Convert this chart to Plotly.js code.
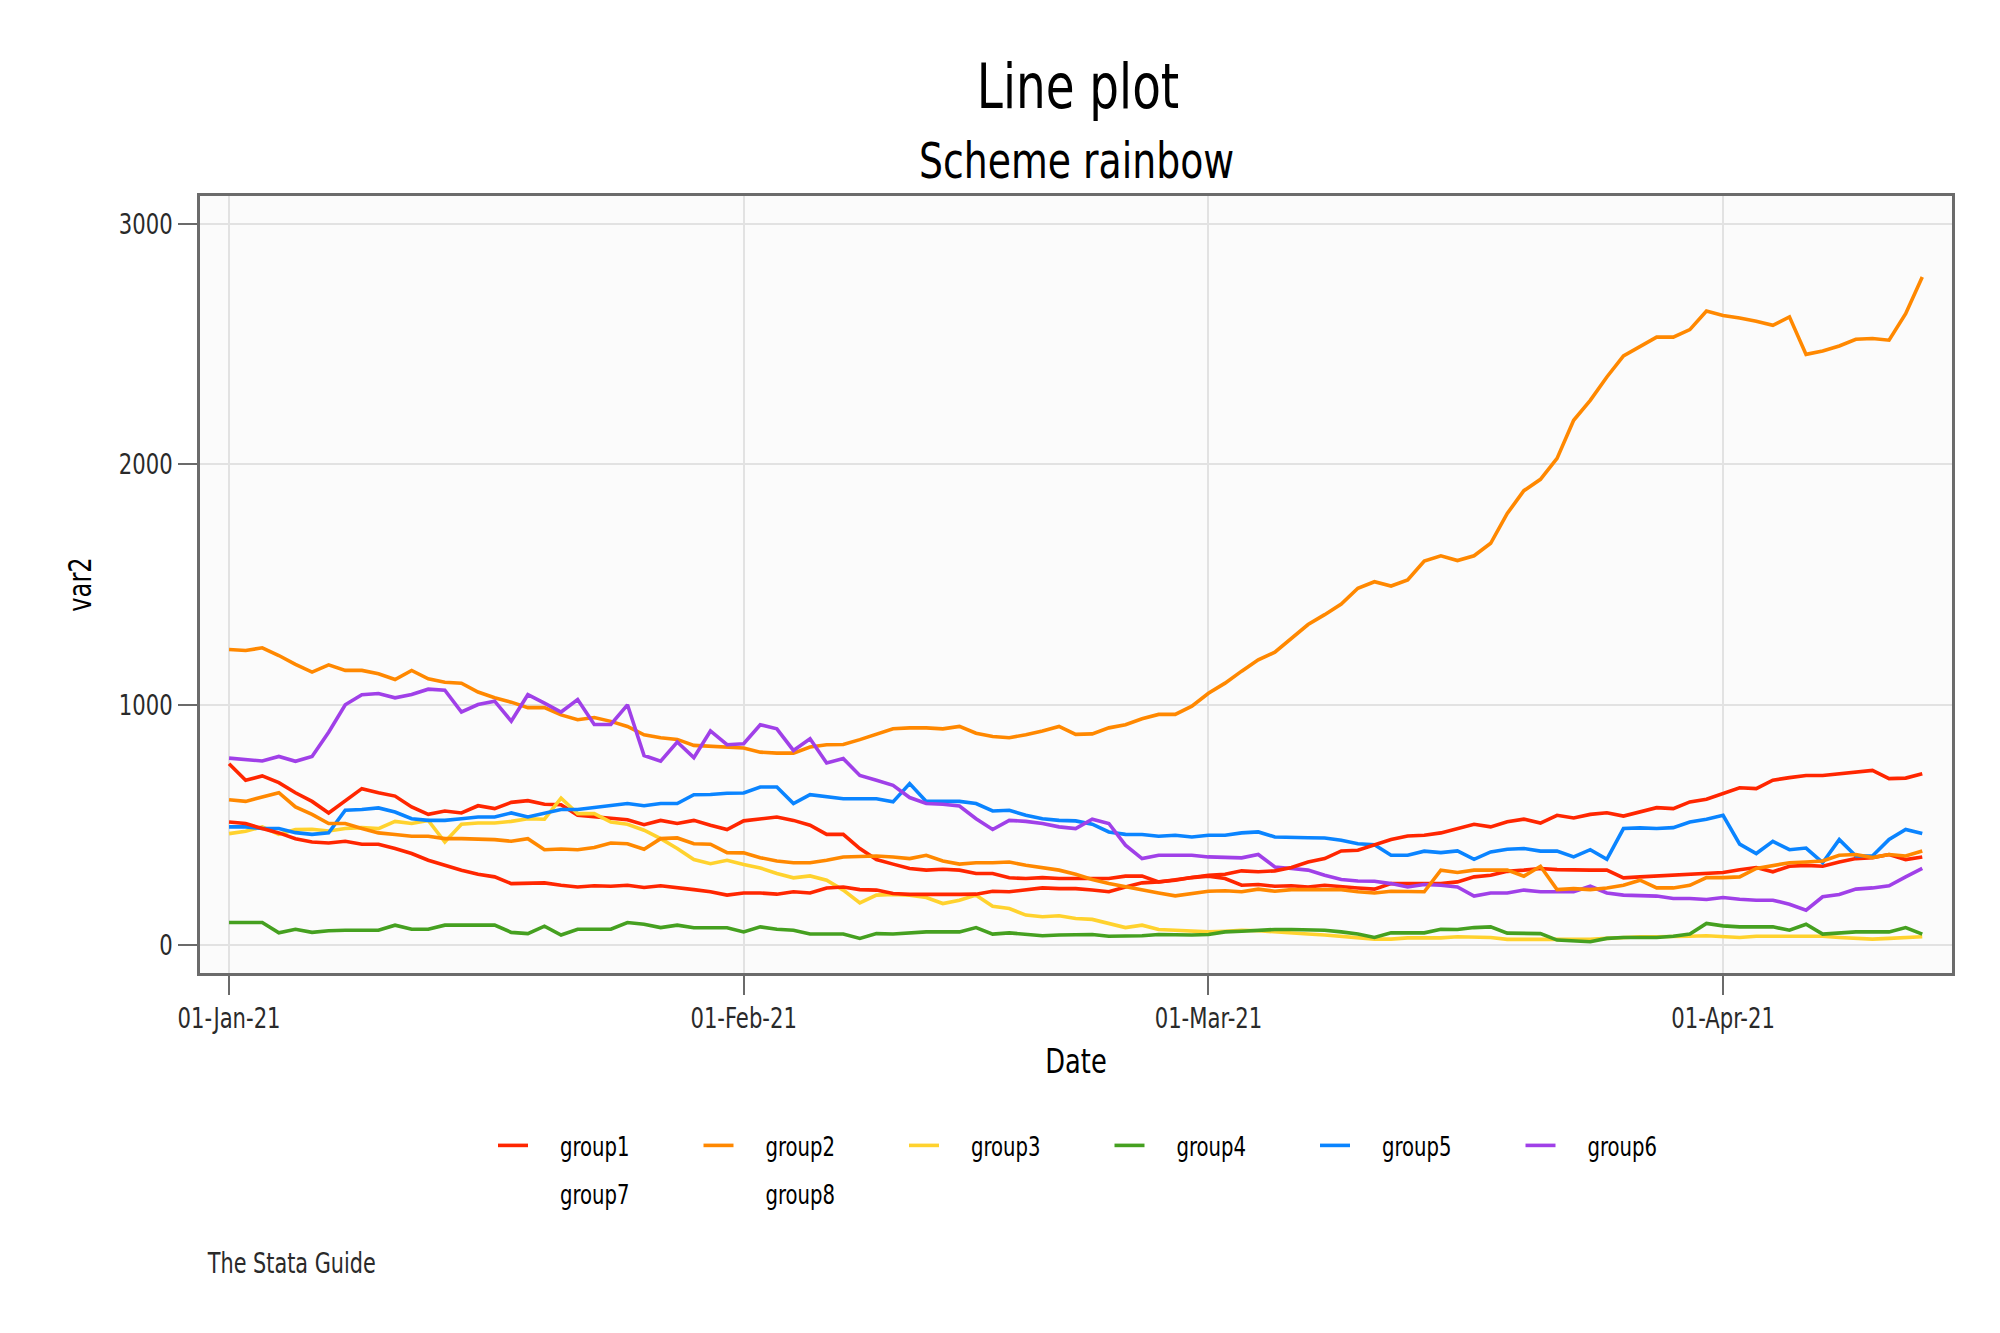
<!DOCTYPE html>
<html>
<head>
<meta charset="utf-8">
<script src="https://cdn.plot.ly/plotly-3.0.1.min.js"></script>
<style>
  html, body { margin: 0; padding: 0; background: #ffffff; }
  #chart { width: 2000px; height: 1333px; }
</style>
</head>
<body>
<div id="chart"></div>
<script>
// ---- data (daily, 01-Jan-2021 .. 13-Apr-2021) ----
const startDate = '2021-01-01';
const nDays = 103;

const group1 = [755, 686, 704, 676, 634, 598, 550, 602, 651, 634, 620, 575, 544, 558, 550, 580, 568, 594, 601, 586, 584, 540, 533, 529, 522, 501,
  519, 506, 519, 499, 481, 517, 524, 533, 519, 499, 461, 461, 402, 356, 337, 319, 312, 316, 312, 298, 298, 280, 277, 281, 277, 277,
  277, 277, 287, 287, 263, 270, 281, 287, 277, 249, 252, 245, 247, 242, 249, 242, 238, 233, 256, 256, 256, 256, 263, 284, 291, 307,
  312, 319, 314, 312, 312, 312, 280, 284, 287, 291, 295, 298, 302, 314, 323, 305, 328, 332, 328, 346, 360, 364, 377, 356, 367];

const group2 = [1230, 1226, 1237, 1205, 1168, 1136, 1166, 1143, 1143, 1129, 1105, 1143, 1108, 1094, 1090, 1053, 1029, 1011, 988, 988, 958, 938, 947, 931, 910, 875,
  863, 856, 831, 827, 821, 820, 803, 799, 799, 824, 834, 835, 855, 879, 900, 904, 904, 900, 910, 882, 868, 863, 875, 891, 910, 877,
  879, 904, 917, 942, 960, 960, 994, 1048, 1090, 1140, 1187, 1219, 1278, 1334, 1375, 1419, 1485, 1512, 1494, 1519, 1598, 1620, 1600, 1620, 1672, 1796,
  1891, 1938, 2025, 2184, 2267, 2364, 2452, 2489, 2530, 2530, 2561, 2638, 2620, 2609, 2596, 2579, 2614, 2458, 2472, 2493, 2521, 2524, 2517, 2627, 2780];

const group3 = [464, 474, 492, 461, 481, 482, 475, 485, 489, 485, 515, 506, 519, 429, 503, 508, 508, 515, 526, 524, 612, 547, 547, 512, 503, 478,
  443, 402, 356, 339, 353, 335, 321, 298, 280, 288, 270, 229, 176, 208, 211, 208, 198, 173, 187, 208, 162, 152, 125, 118, 122, 111,
  107, 90, 73, 83, 65, 62, 58, 55, 58, 62, 60, 55, 48, 46, 42, 37, 32, 25, 25, 30, 30, 30, 35, 35, 32, 24,
  24, 24, 24, 24, 24, 28, 32, 35, 35, 35, 37, 39, 35, 32, 37, 37, 37, 37, 37, 32, 28, 25, 28, 30, 35];

const group4 = [94, 94, 94, 51, 66, 53, 60, 62, 62, 62, 83, 66, 66, 83, 83, 83, 83, 53, 48, 79, 42, 66, 66, 66, 94, 87,
  73, 83, 72, 72, 72, 55, 76, 66, 62, 46, 46, 46, 28, 48, 46, 51, 55, 55, 55, 73, 46, 51, 44, 39, 42, 42,
  44, 37, 37, 39, 44, 42, 42, 44, 55, 58, 62, 65, 65, 65, 62, 55, 46, 32, 51, 51, 51, 66, 65, 73, 76, 50,
  48, 48, 21, 18, 14, 28, 32, 32, 32, 37, 46, 90, 80, 76, 76, 76, 62, 87, 46, 51, 55, 55, 55, 73, 46];

const group5 = [492, 492, 485, 485, 468, 461, 467, 561, 564, 571, 554, 526, 519, 519, 526, 533, 533, 550, 533, 550, 564, 564, 572, 579, 589, 580,
  589, 589, 626, 627, 632, 633, 658, 658, 589, 626, 616, 609, 609, 609, 596, 672, 598, 598, 598, 589, 558, 561, 540, 526, 519, 517,
  503, 471, 461, 460, 453, 457, 450, 457, 457, 467, 471, 450, 447, 447, 446, 436, 422, 418, 374, 374, 391, 385, 392, 357, 388, 399,
  402, 391, 391, 367, 397, 357, 485, 488, 485, 489, 512, 524, 540, 420, 381, 432, 397, 404, 343, 439, 371, 371, 440, 481, 464];

const group6 = [778, 773, 766, 785, 765, 785, 886, 1000, 1042, 1047, 1029, 1043, 1065, 1061, 970, 1001, 1015, 932, 1042, 1007, 970, 1022, 918, 918, 1000, 789,
  765, 845, 780, 891, 834, 838, 917, 900, 810, 859, 758, 776, 706, 686, 665, 614, 589, 586, 579, 526, 481, 519, 515, 506, 492, 485,
  524, 506, 416, 360, 374, 374, 374, 367, 364, 363, 377, 325, 319, 312, 291, 273, 267, 266, 256, 242, 252, 249, 242, 204, 217, 217,
  229, 222, 222, 222, 245, 217, 208, 205, 204, 194, 194, 190, 198, 191, 187, 187, 170, 145, 201, 211, 233, 238, 247, 284, 319];

const group7 = [512, 506, 485, 467, 443, 429, 425, 432, 420, 420, 402, 381, 353, 332, 312, 295, 284, 256, 256, 259, 249, 242, 247, 245, 249, 240,
  247, 240, 231, 222, 208, 217, 217, 212, 222, 217, 238, 242, 231, 229, 215, 211, 211, 208, 211, 212, 224, 222, 229, 238, 235, 235,
  229, 222, 242, 259, 263, 273, 284, 291, 295, 309, 305, 309, 323, 346, 360, 392, 395, 416, 439, 454, 457, 467, 485, 503, 492, 513,
  524, 508, 540, 529, 544, 551, 537, 554, 572, 568, 596, 607, 630, 655, 651, 686, 697, 706, 706, 713, 720, 727, 693, 695, 713];

const group8 = [605, 598, 616, 634, 575, 544, 506, 506, 485, 467, 460, 453, 453, 443, 443, 440, 439, 432, 443, 397, 400, 397, 406, 425, 422, 399,
  443, 446, 422, 420, 385, 384, 364, 350, 343, 343, 353, 367, 370, 371, 367, 360, 374, 350, 337, 343, 343, 346, 332, 321, 312, 295,
  273, 256, 242, 231, 217, 205, 215, 224, 226, 222, 233, 224, 231, 231, 231, 231, 222, 217, 224, 222, 222, 312, 302, 312, 312, 312,
  287, 328, 231, 235, 231, 238, 249, 270, 238, 238, 249, 281, 281, 284, 319, 332, 343, 346, 350, 374, 377, 364, 377, 371, 392];

const groupNames = ['group1', 'group2', 'group3', 'group4', 'group5', 'group6', 'group7', 'group8'];
const tickDates = ['2021-01-01', '2021-02-01', '2021-03-01', '2021-04-01'];
const tickLabels = ['01-Jan-21', '01-Feb-21', '01-Mar-21', '01-Apr-21'];
const yTicks = [0, 1000, 2000, 3000];

// ---- build ----
const dates = [];
(function () {
  const t0 = Date.parse(startDate + 'T00:00:00Z');
  for (let i = 0; i < nDays; i++) {
    dates.push(new Date(t0 + i * 86400000).toISOString().slice(0, 10));
  }
})();

const seriesList = [group1, group2, group3, group4, group5, group6, group7, group8];
const colors = ['#ff2600', '#ff8800', '#ffd22e', '#45a020', '#0a84ff', '#a040e8', '#ff2600', '#ff8800'];
const FONT = '"Liberation Sans Narrow", "Arial Narrow", "DejaVu Sans Condensed", sans-serif';
const NARROW = 0.84;          // horizontal condensing of text to mimic a narrow face
const LEGEND_TEXT_SHIFT = 27; // extra gap between legend key and label
const shiftedLegendNames = new Set(groupNames.slice(0, 6));

const traces = [];
for (let g = 0; g < 8; g++) {
  traces.push({
    type: 'scatter', mode: 'lines',
    x: dates, y: seriesList[g], name: groupNames[g],
    line: { color: colors[g], width: 3.6 },
    showlegend: g < 6,
    legend: 'legend',
    hoverinfo: 'x+y+name'
  });
}
// group7 / group8 legend entries show no key in the reference
for (let g = 6; g < 8; g++) {
  traces.push({
    type: 'scatter', mode: 'lines',
    x: [null], y: [null], name: groupNames[g],
    line: { color: 'rgba(0,0,0,0)', width: 4 },
    showlegend: true, legend: 'legend2', hoverinfo: 'skip'
  });
}

const axisCommon = {
  showline: true, mirror: true, linecolor: '#6b6b6b', linewidth: 2.5,
  ticks: 'outside', ticklen: 19, tickwidth: 2, tickcolor: '#6b6b6b',
  showgrid: true, gridcolor: '#e2e2e2', gridwidth: 1.5,
  zeroline: false,
  tickfont: { family: FONT, size: 28, color: '#2a2a2a' }
};

const legendCommon = {
  orientation: 'h', x: (493 - 200) / 1752, xanchor: 'left', yanchor: 'top',
  entrywidth: 160.5, entrywidthmode: 'pixels', itemwidth: 30,
  font: { family: FONT, size: 26, color: '#000000' },
  bgcolor: 'rgba(0,0,0,0)', traceorder: 'normal', valign: 'middle'
};

const layout = {
  width: 2000, height: 1333,
  paper_bgcolor: '#ffffff', plot_bgcolor: '#fbfbfb',
  margin: { l: 200, r: 48, t: 196, b: 360 },
  font: { family: FONT, color: '#000000' },
  title: {
    text: 'Line plot',
    font: { family: FONT, size: 62, color: '#000000' },
    x: 0.539, xanchor: 'center', xref: 'container',
    y: 0.9355, yanchor: 'middle', yref: 'container'
  },
  annotations: [
    { text: 'Scheme rainbow', xref: 'paper', yref: 'paper', x: 0.5, y: (973 - 161) / 777,
      xanchor: 'center', yanchor: 'middle', showarrow: false,
      font: { family: FONT, size: 50, color: '#000000' } },
    { text: 'The Stata Guide', xref: 'paper', yref: 'paper', x: (205 - 200) / 1752, y: (973 - 1263) / 777,
      xanchor: 'left', yanchor: 'middle', showarrow: false,
      font: { family: FONT, size: 27.5, color: '#2a2a2a' } }
  ],
  xaxis: Object.assign({}, axisCommon, {
    type: 'date',
    range: ['2020-12-30 06:00', '2021-04-14 19:00'],
    tickmode: 'array', tickvals: tickDates, ticktext: tickLabels,
    title: { text: 'Date', font: { family: FONT, size: 34, color: '#000000' }, standoff: 15 }
  }),
  yaxis: Object.assign({}, axisCommon, {
    range: [-116, 3117],
    tickmode: 'array', tickvals: yTicks, ticktext: yTicks.map(String),
    title: { text: 'var2', font: { family: FONT, size: 32, color: '#000000' }, standoff: 8 }
  }),
  legend: Object.assign({}, legendCommon, { y: (973 - 1122) / 777 }),
  legend2: Object.assign({}, legendCommon, {
    x: (493 + LEGEND_TEXT_SHIFT - 200) / 1752,
    y: (973 - 1170) / 777
  }),
  showlegend: true
};

function condenseText(gd) {
  const leftKeep = new Set(layout.annotations.filter(a => a.xanchor === 'left').map(a => a.text));
  const nodes = gd.querySelectorAll('svg text');
  nodes.forEach(function (t) {
    const txt = t.textContent;
    if (!txt || !txt.trim()) return;
    if (t.getAttribute('data-cx') !== null && t.getAttribute('data-cx') === t.getAttribute('x') &&
        t.getAttribute('textLength') !== null) return;
    t.removeAttribute('textLength');
    t.removeAttribute('lengthAdjust');
    let len = 0;
    try { len = t.getComputedTextLength(); } catch (e) { len = 0; }
    if (!(len > 0)) return;
    const isAnnLeft = t.classList.contains('annotation-text') && leftKeep.has(txt);
    const before = isAnnLeft ? t.getBBox() : null;
    t.setAttribute('textLength', (len * NARROW).toFixed(2));
    t.setAttribute('lengthAdjust', 'spacingAndGlyphs');
    if (isAnnLeft) {
      const after = t.getBBox();
      const x0 = parseFloat(t.getAttribute('x') || '0');
      t.setAttribute('x', (x0 + (before.x - after.x)).toFixed(2));
    }
    if (t.classList.contains('legendtext') && shiftedLegendNames.has(txt.trim())) {
      const x0 = parseFloat(t.getAttribute('x') || '0');
      t.setAttribute('x', (x0 + LEGEND_TEXT_SHIFT).toFixed(2));
    }
    t.setAttribute('data-cx', t.getAttribute('x') || '');
  });
}

Plotly.newPlot('chart', traces, layout, { displayModeBar: false, responsive: false })
  .then(function (gd) {
    condenseText(gd);
    gd.on('plotly_afterplot', function () { condenseText(gd); });
  });
</script>
</body>
</html>
